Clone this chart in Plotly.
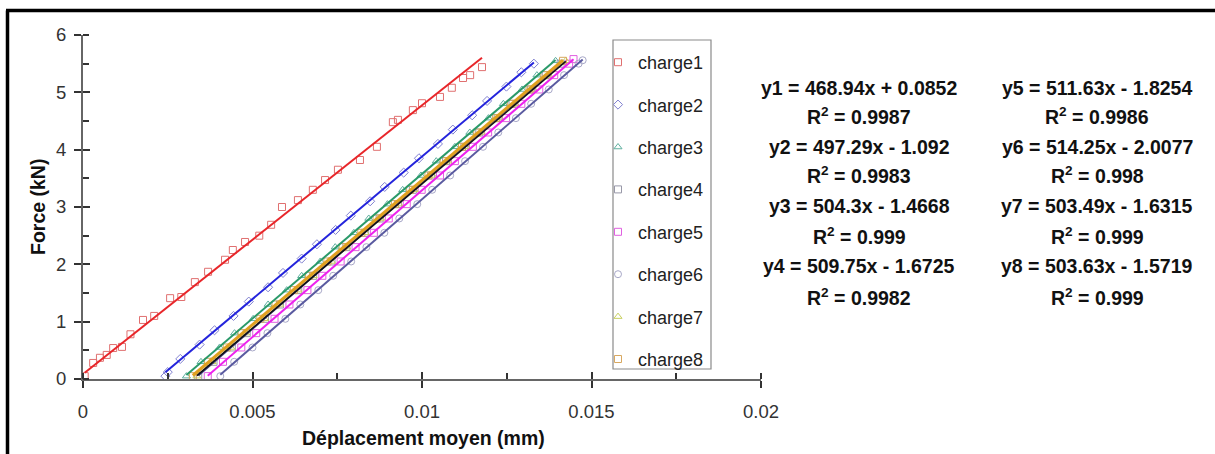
import plotly.graph_objects as go

# ---------------- data ----------------
names = ["charge1", "charge2", "charge3", "charge4", "charge5", "charge6", "charge7", "charge8"]

x1 = [0.00005, 0.0003, 0.0005, 0.0007, 0.00089, 0.00115, 0.0014, 0.00177, 0.0021, 0.00257, 0.0029,
      0.0033, 0.00369, 0.00419, 0.00442, 0.00478, 0.0052, 0.00555, 0.00587, 0.00634, 0.00678, 0.00714,
      0.00752, 0.00817, 0.00867, 0.00914, 0.00929, 0.00973, 0.0100, 0.01053, 0.01088, 0.01121, 0.01142, 0.01177]
y1 = [0.05, 0.28, 0.37, 0.42, 0.54, 0.56, 0.78, 1.03, 1.10, 1.41, 1.43,
      1.69, 1.87, 2.08, 2.25, 2.39, 2.50, 2.69, 3.00, 3.12, 3.30, 3.47,
      3.65, 3.82, 4.05, 4.48, 4.52, 4.69, 4.81, 4.92, 5.08, 5.25, 5.30, 5.44]

x2 = [0.00243, 0.00250, 0.00287, 0.00344, 0.00388, 0.00444, 0.00489, 0.00546, 0.00590, 0.00645, 0.00690,
      0.00745, 0.00790, 0.00847, 0.00890, 0.00946, 0.00991, 0.01047, 0.01091, 0.01148, 0.01192, 0.01249,
      0.01293, 0.01330]
y2 = [0.05, 0.12, 0.35, 0.60, 0.85, 1.10, 1.35, 1.60, 1.85, 2.10, 2.35,
      2.60, 2.85, 3.10, 3.35, 3.60, 3.85, 4.10, 4.35, 4.60, 4.85, 5.10,
      5.35, 5.50]

x3 = [0.00305, 0.00348, 0.00403, 0.00447, 0.00502, 0.00546, 0.00601, 0.00645, 0.00700, 0.00744, 0.00799,
      0.00843, 0.00898, 0.00943, 0.00997, 0.01042, 0.01097, 0.01141, 0.01196, 0.01240, 0.01295, 0.01339,
      0.01394]
y3 = [0.05, 0.30, 0.55, 0.80, 1.05, 1.30, 1.55, 1.80, 2.05, 2.30, 2.55,
      2.80, 3.05, 3.30, 3.55, 3.80, 4.05, 4.30, 4.55, 4.80, 5.05, 5.30,
      5.55]

x4 = [0.00340, 0.00385, 0.00439, 0.00483, 0.00537, 0.00581, 0.00635, 0.00679, 0.00733, 0.00777, 0.00831,
      0.00875, 0.00929, 0.00973, 0.01027, 0.01071, 0.01125, 0.01169, 0.01223, 0.01267, 0.01321, 0.01365,
      0.01409]
y4 = [0.05, 0.30, 0.55, 0.80, 1.05, 1.30, 1.55, 1.80, 2.05, 2.30, 2.55,
      2.80, 3.05, 3.30, 3.55, 3.80, 4.05, 4.30, 4.55, 4.80, 5.05, 5.30,
      5.50]

x5 = [0.00368, 0.00413, 0.00467, 0.00511, 0.00565, 0.00609, 0.00662, 0.00706, 0.00760, 0.00804, 0.00858,
      0.00902, 0.00955, 0.00999, 0.01053, 0.01097, 0.01150, 0.01195, 0.01248, 0.01293, 0.01346, 0.01390,
      0.01434, 0.01447]
y5 = [0.05, 0.30, 0.55, 0.80, 1.05, 1.30, 1.55, 1.80, 2.05, 2.30, 2.55,
      2.80, 3.05, 3.30, 3.55, 3.80, 4.05, 4.30, 4.55, 4.80, 5.05, 5.30,
      5.50, 5.58]

x6 = [0.00405, 0.00446, 0.00500, 0.00544, 0.00597, 0.00641, 0.00694, 0.00738, 0.00791, 0.00836, 0.00889,
      0.00933, 0.00986, 0.01030, 0.01083, 0.01127, 0.01180, 0.01225, 0.01277, 0.01322, 0.01374, 0.01419,
      0.01462, 0.01474]
y6 = [0.05, 0.30, 0.55, 0.80, 1.05, 1.30, 1.55, 1.80, 2.05, 2.30, 2.55,
      2.80, 3.05, 3.30, 3.55, 3.80, 4.05, 4.30, 4.55, 4.80, 5.05, 5.30,
      5.50, 5.56]

x7 = [0.00336, 0.00381, 0.00436, 0.00480, 0.00535, 0.00580, 0.00634, 0.00679, 0.00733, 0.00778, 0.00833,
      0.00878, 0.00932, 0.00977, 0.01031, 0.01076, 0.01130, 0.01175, 0.01230, 0.01275, 0.01329, 0.01374,
      0.01424]
y7 = [0.05, 0.30, 0.55, 0.80, 1.05, 1.30, 1.55, 1.80, 2.05, 2.30, 2.55,
      2.80, 3.05, 3.30, 3.55, 3.80, 4.05, 4.30, 4.55, 4.80, 5.05, 5.30,
      5.55]

x8 = [0.00324, 0.00369, 0.00424, 0.00468, 0.00523, 0.00568, 0.00622, 0.00667, 0.00721, 0.00766, 0.00821,
      0.00866, 0.00920, 0.00965, 0.01019, 0.01064, 0.01118, 0.01163, 0.01218, 0.01262, 0.01317, 0.01361,
      0.01416]
y8 = [0.05, 0.30, 0.55, 0.80, 1.05, 1.30, 1.55, 1.80, 2.05, 2.30, 2.55,
      2.80, 3.05, 3.30, 3.55, 3.80, 4.05, 4.30, 4.55, 4.80, 5.05, 5.30,
      5.55]

# trendline coefficients (as printed on the chart)
slopes = [468.94, 497.29, 504.3, 509.75, 511.63, 514.25, 503.49, 503.63]
intercepts = [0.0852, -1.092, -1.4668, -1.6725, -1.8254, -2.0077, -1.6315, -1.5719]
r2_labels = ["0.9987", "0.9983", "0.999", "0.9982", "0.9986", "0.998", "0.999", "0.999"]
eq_labels = ["y1 = 468.94x + 0.0852", "y2 = 497.29x - 1.092", "y3 = 504.3x - 1.4668", "y4 = 509.75x - 1.6725",
             "y5 = 511.63x - 1.8254", "y6 = 514.25x - 2.0077", "y7 = 503.49x - 1.6315", "y8 = 503.63x - 1.5719"]

x_ticks = [0, 0.005, 0.01, 0.015, 0.02]
x_tick_text = ["0", "0.005", "0.01", "0.015", "0.02"]
y_ticks = [0, 1, 2, 3, 4, 5, 6]

# ---------------- styles ----------------
xs = [x1, x2, x3, x4, x5, x6, x7, x8]
ys = [y1, y2, y3, y4, y5, y6, y7, y8]
marker_symbols = ["square-open", "diamond-open", "triangle-up-open", "square-open",
                  "square-open", "circle-open", "triangle-up-open", "square-open"]
marker_colors = ["#e07070", "#8080d0", "#60b0a0", "#9898a8", "#e060e0", "#a8a8c8", "#c8d060", "#d8a860"]
line_colors = ["#e8262a", "#2424dc", "#2a9a6a", "#3a3a80", "#ee22ee", "#5a5aa0", "#111111", "#e0a020"]
line_widths = [2, 2, 2, 2, 2, 2, 1.6, 3.2]

FONT = "Liberation Sans, Arial, sans-serif"

fig = go.Figure()

for i in range(8):
    fig.add_trace(go.Scatter(
        x=xs[i], y=ys[i], mode="markers", name=names[i], legendgroup=names[i],
        marker=dict(symbol=marker_symbols[i], size=7, color=marker_colors[i], line=dict(width=1)),
    ))

# trendlines drawn on top, in order so that black sits over orange
line_order = [0, 1, 2, 3, 4, 5, 7, 6]
for i in line_order:
    xa = [min(xs[i]), max(xs[i])]
    ya = [slopes[i] * v + intercepts[i] for v in xa]
    fig.add_trace(go.Scatter(
        x=xa, y=ya, mode="lines", showlegend=False, hoverinfo="skip",
        line=dict(color=line_colors[i], width=line_widths[i]),
    ))

L, R, T, B = 83, 454, 35, 75
W, H = 1215, 454
pw, ph = W - L - R, H - T - B

def px_x(p):
    return (p - L) / pw

def px_y(p):
    return (H - B - p) / ph

EQ_SIZE = 19.5
annotations = []
for i in range(8):
    col = i // 4
    row = i % 4
    cx = [859, 1097][col]
    eq_y = [88, 147, 206, 266][row]
    r_y = [116, 175, 236, 297][row]
    annotations.append(dict(x=px_x(cx), y=px_y(eq_y), xref="paper", yref="paper", text=eq_labels[i],
                            showarrow=False, xanchor="center", yanchor="middle",
                            font=dict(family=FONT, size=EQ_SIZE, color="#111111", weight="bold")))
    annotations.append(dict(x=px_x(cx), y=px_y(r_y), xref="paper", yref="paper",
                            text="R<sup>2</sup> = " + r2_labels[i],
                            showarrow=False, xanchor="center", yanchor="middle",
                            font=dict(family=FONT, size=EQ_SIZE, color="#111111", weight="bold")))

annotations.append(dict(x=px_x(423), y=px_y(438), xref="paper", yref="paper", text="Déplacement moyen (mm)",
                        showarrow=False, xanchor="center", yanchor="middle",
                        font=dict(family=FONT, size=19.5, color="#111111", weight="bold")))
annotations.append(dict(x=px_x(38), y=px_y(207), xref="paper", yref="paper", text="Force (kN)",
                        showarrow=False, xanchor="center", yanchor="middle", textangle=-90,
                        font=dict(family=FONT, size=19.5, color="#111111", weight="bold")))

shapes = [
    # legend frame
    dict(type="rect", xref="paper", yref="paper", x0=px_x(613), x1=px_x(711), y0=px_y(369), y1=px_y(40),
         line=dict(color="#8a8a8a", width=1.2), fillcolor="rgba(0,0,0,0)", layer="above"),
    # outer frame (left and top edges)
    dict(type="line", xref="paper", yref="paper", x0=px_x(7.5), x1=px_x(7.5), y0=px_y(10.5), y1=px_y(460),
         line=dict(color="black", width=3.5)),
    dict(type="line", xref="paper", yref="paper", x0=px_x(6), x1=px_x(1220), y0=px_y(10.5), y1=px_y(10.5),
         line=dict(color="black", width=3.5)),
]

axis_common = dict(showgrid=False, zeroline=False)

fig.update_layout(
    width=W, height=H,
    margin=dict(l=L, r=R, t=T, b=B, pad=0),
    paper_bgcolor="white", plot_bgcolor="white",
    font=dict(family=FONT, size=18, color="#333333"),
    showlegend=True,
    legend=dict(x=px_x(598), y=px_y(44), xanchor="left", yanchor="top",
                bgcolor="rgba(0,0,0,0)", borderwidth=0, tracegroupgap=16,
                font=dict(family=FONT, size=18, color="#222222")),
    xaxis=dict(range=[0, 0.02], tickvals=x_ticks, ticktext=x_tick_text, ticks="outside", ticklen=7,
               tickwidth=2, tickcolor="#333333", showline=True, linecolor="#666666", linewidth=2,
               tickfont=dict(family=FONT, size=18.5, color="#333333"), ticklabelstandoff=8,
               minor=dict(ticks="inside", ticklen=6, tickwidth=1.5, tickcolor="#333333", dtick=0.0025, tick0=0),
               **axis_common),
    yaxis=dict(range=[0, 6], tickvals=y_ticks, ticks="outside", ticklen=7, tickwidth=2, tickcolor="#333333",
               showline=True, linecolor="#666666", linewidth=2,
               tickfont=dict(family=FONT, size=18.5, color="#333333"), ticklabelstandoff=4,
               minor=dict(ticks="inside", ticklen=6, tickwidth=1.5, tickcolor="#333333", dtick=0.5, tick0=0),
               **axis_common),
    xaxis2=dict(range=[0, 0.02], overlaying="x", anchor="y", side="bottom", tickvals=x_ticks,
                ticks="inside", ticklen=7, tickwidth=2, tickcolor="#333333", showticklabels=False,
                showline=False, **axis_common),
    yaxis2=dict(range=[0, 6], overlaying="y", anchor="x", side="left", tickvals=y_ticks,
                ticks="inside", ticklen=7, tickwidth=2, tickcolor="#333333", showticklabels=False,
                showline=False, **axis_common),
    annotations=annotations,
    shapes=shapes,
)

# invisible helper trace so the overlay axes are drawn
fig.add_trace(go.Scatter(x=[0], y=[0], xaxis="x2", yaxis="y2", mode="markers",
                         marker=dict(opacity=0), showlegend=False, hoverinfo="skip"))

fig.write_html("out.html")
